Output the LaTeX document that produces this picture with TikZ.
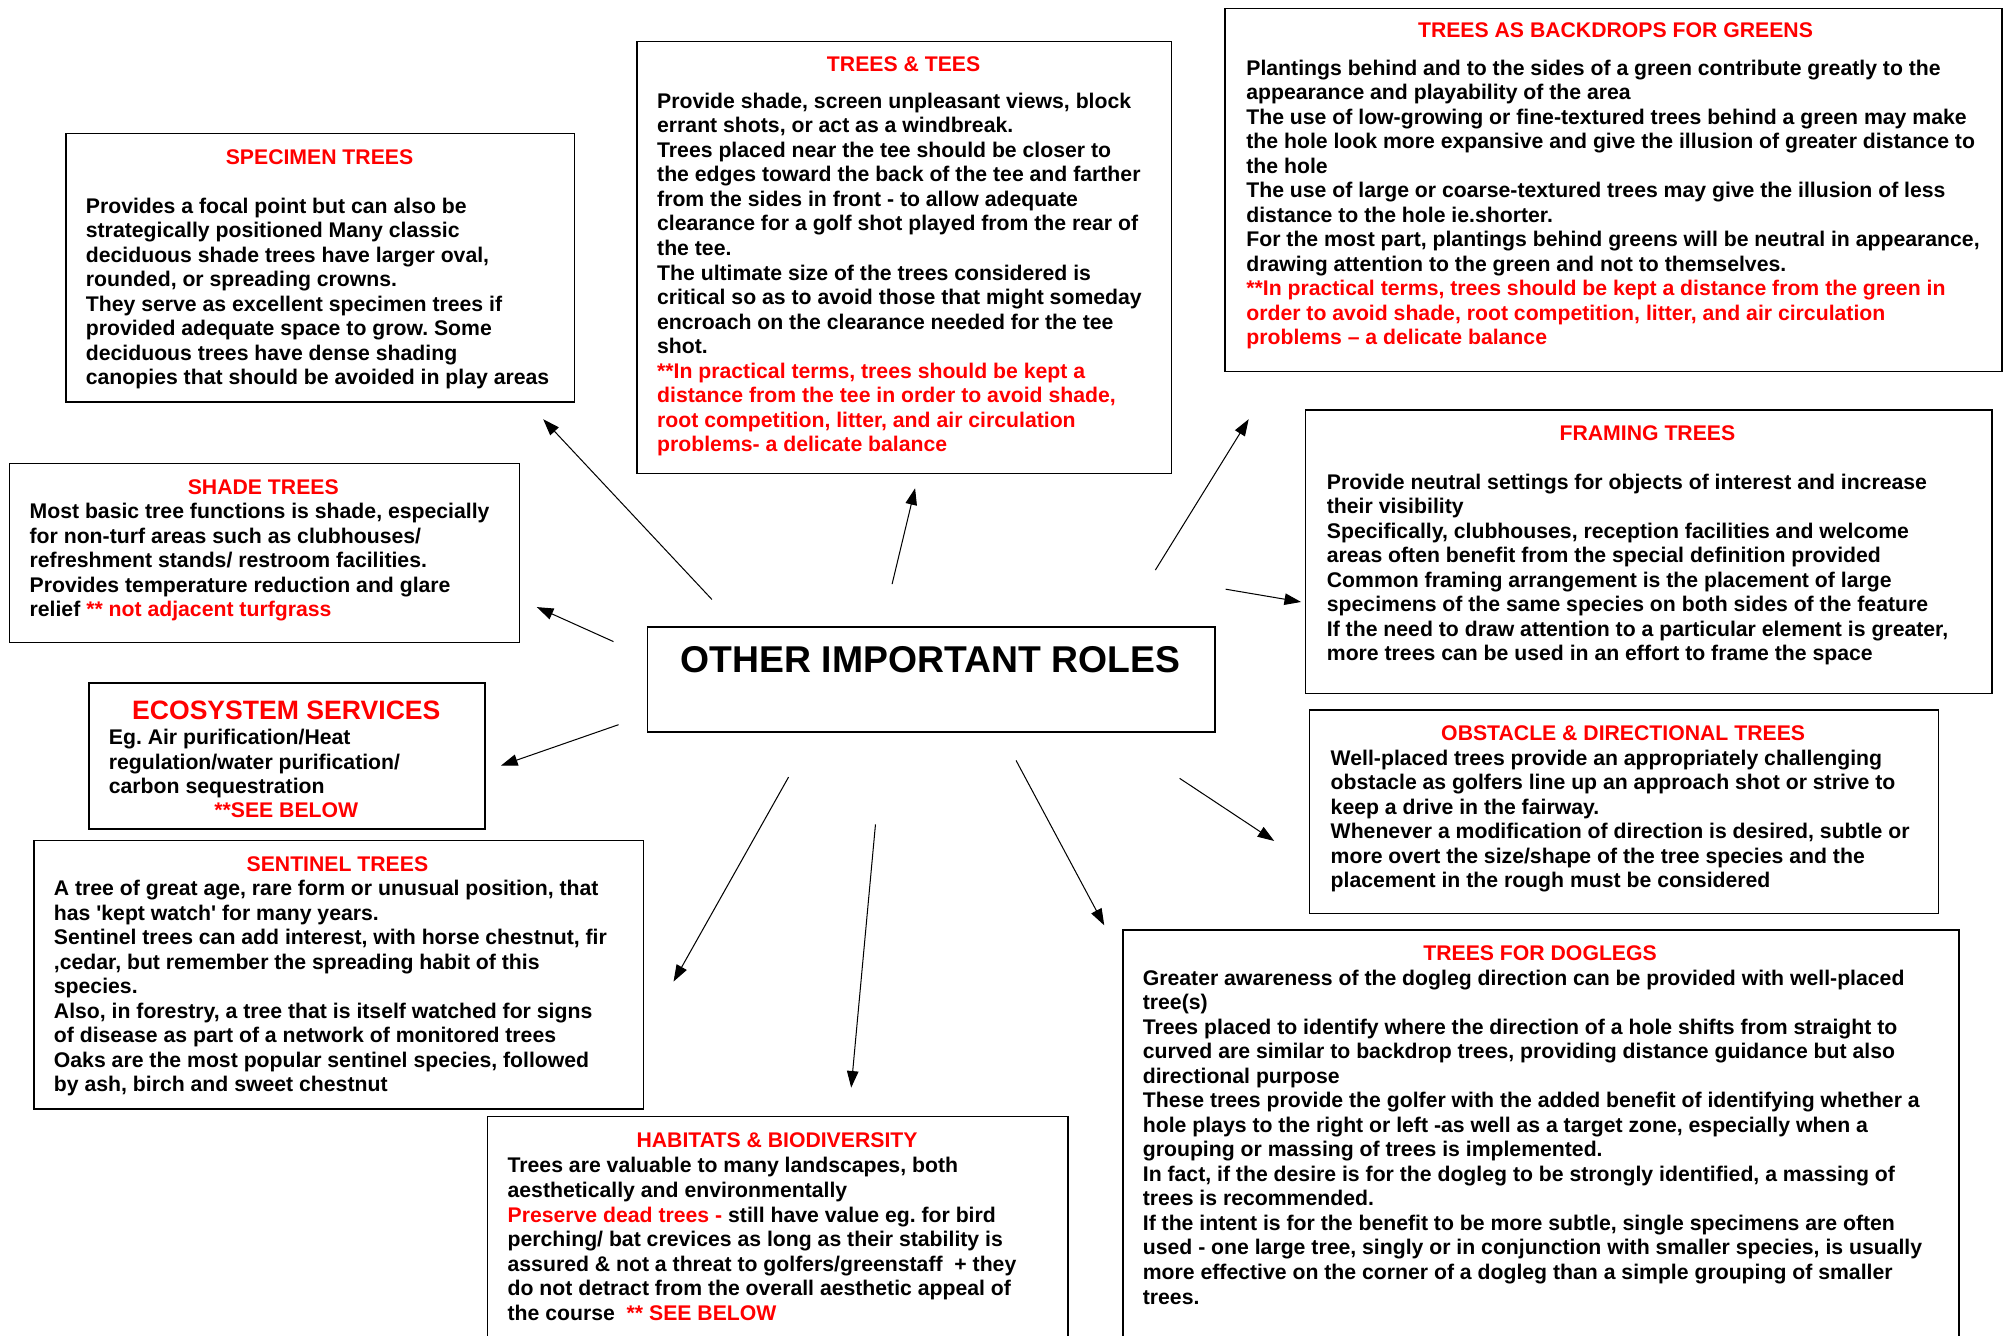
\documentclass[tikz,border=0pt]{standalone}
\usepackage{fontspec}
\setmainfont{Liberation Sans}
\usetikzlibrary{arrows.meta}
\definecolor{hdred}{RGB}{255,0,0}
\frenchspacing

\begin{document}
\begin{tikzpicture}[
    x=1pt, y=-1pt,
    every node/.style={font=\fontsize{16.6}{19.2}\selectfont\bfseries},
    box/.style={draw, line width=1.2pt, inner sep=0pt, anchor=north west},
    head/.style={text=hdred, inner sep=0pt},
    body/.style={align=left, inner sep=0pt, anchor=north west},
    arr/.style={line width=0.8pt, -{Triangle[length=13pt,width=9pt]}}
]
\path[fill=white, use as bounding box] (0,0) rectangle (1568,1044.6);

% boxes
\node[box, minimum width=398pt, minimum height=210pt] (spec) at (51,104) {};
\node[box, minimum width=418pt, minimum height=338pt] (tees) at (498,32) {};
\node[box, minimum width=608pt, minimum height=284pt] (back) at (958,6) {};
\node[box, minimum width=537pt, minimum height=222pt] (fram) at (1021,320) {};
\node[box, minimum width=399pt, minimum height=140pt] (shade) at (7,362) {};
\node[box, minimum width=444pt, minimum height=82pt] (roles) at (506,490) {};
\node[box, minimum width=310pt, minimum height=114pt] (eco) at (69,534) {};
\node[box, minimum width=492pt, minimum height=159pt] (obst) at (1024,555) {};
\node[box, minimum width=477pt, minimum height=210pt] (sent) at (26,657) {};
\node[box, minimum width=454pt, minimum height=200pt] (hab) at (381,873) {};
\node[box, minimum width=654pt, minimum height=340pt] (dog) at (878,727) {};

% centre
\node[inner sep=0pt, font=\fontsize{29.2}{34}\selectfont\bfseries] (roles-t) at (728,516) {OTHER IMPORTANT ROLES};

% specimen trees
\node[head] (spec-h) at (250,123) {SPECIMEN TREES};
\node[body] (spec-b) at (67,154.5) {Provides a focal point but can also be\\
strategically positioned Many classic\\
deciduous shade trees have larger oval,\\
rounded, or spreading crowns.\\
They serve as excellent specimen trees if\\
provided adequate space to grow. Some\\
deciduous trees have dense shading\\
canopies that should be avoided in play areas};

% trees and tees
\node[head] (tees-h) at (707,50) {TREES \& TEES};
\node[body] (tees-b) at (514,72.5) {Provide shade, screen unpleasant views, block\\
errant shots, or act as a windbreak.\\
Trees placed near the tee should be closer to\\
the edges toward the back of the tee and farther\\
from the sides in front - to allow adequate\\
clearance for a golf shot played from the rear of\\
the tee.\\
The ultimate size of the trees considered is\\
critical so as to avoid those that might someday\\
encroach on the clearance needed for the tee\\
shot.\\
\textcolor{hdred}{**In practical terms, trees should be kept a}\\
\textcolor{hdred}{distance from the tee in order to avoid shade,}\\
\textcolor{hdred}{root competition, litter, and air circulation}\\
\textcolor{hdred}{problems- a delicate balance}};

% backdrops
\node[head] (back-h) at (1264,24) {TREES AS BACKDROPS FOR GREENS};
\node[body] (back-b) at (975,46.5) {Plantings behind and to the sides of a green contribute greatly to the\\
appearance and playability of the area\\
The use of low-growing or fine-textured trees behind a green may make\\
the hole look more expansive and give the illusion of greater distance to\\
the hole\\
The use of large or coarse-textured trees may give the illusion of less\\
distance to the hole ie.shorter.\\
For the most part, plantings behind greens will be neutral in appearance,\\
drawing attention to the green and not to themselves.\\
\textcolor{hdred}{**In practical terms, trees should be kept a distance from the green in}\\
\textcolor{hdred}{order to avoid shade, root competition, litter, and air circulation}\\
\textcolor{hdred}{problems -- a delicate balance}};

% framing
\node[head] (fram-h) at (1289,339) {FRAMING TREES};
\node[body] (fram-b) at (1038,370.5) {Provide neutral settings for objects of interest and increase\\
their visibility\\
Specifically, clubhouses, reception facilities and welcome\\
areas often benefit from the special definition provided\\
Common framing arrangement is the placement of large\\
specimens of the same species on both sides of the feature\\
If the need to draw attention to a particular element is greater,\\
more trees can be used in an effort to frame the space};

% shade
\node[head] (shade-h) at (206,381) {SHADE TREES};
\node[body] (shade-b) at (23,393.5) {Most basic tree functions is shade, especially\\
for non-turf areas such as clubhouses/\\
refreshment stands/ restroom facilities.\\
Provides temperature reduction and glare\\
relief \textcolor{hdred}{** not adjacent turfgrass}};

% ecosystem services
\node[head, font=\fontsize{20.8}{24}\selectfont\bfseries] (eco-h) at (224,556) {ECOSYSTEM SERVICES};
\node[body] (eco-b) at (85,570.5) {Eg. Air purification/Heat\\
regulation/water purification/\\
carbon sequestration};
\node[head] (eco-n) at (224,634) {**SEE BELOW};

% obstacle
\node[head] (obst-h) at (1270,574) {OBSTACLE \& DIRECTIONAL TREES};
\node[body] (obst-b) at (1041,586.5) {Well-placed trees provide an appropriately challenging\\
obstacle as golfers line up an approach shot or strive to\\
keep a drive in the fairway.\\
Whenever a modification of direction is desired, subtle or\\
more overt the size/shape of the tree species and the\\
placement in the rough must be considered};

% sentinel
\node[head] (sent-h) at (264,676) {SENTINEL TREES};
\node[body] (sent-b) at (42,688.5) {A tree of great age, rare form or unusual position, that\\
has \textquotesingle kept watch\textquotesingle\ for many years.\\
Sentinel trees can add interest, with horse chestnut, fir\\
,cedar, but remember the spreading habit of this\\
species.\\
Also, in forestry, a tree that is itself watched for signs\\
of disease as part of a network of monitored trees\\
Oaks are the most popular sentinel species, followed\\
by ash, birch and sweet chestnut};

% habitats
\node[head] (hab-h) at (608,892) {HABITATS \& BIODIVERSITY};
\node[body] (hab-b) at (397,905.5) {Trees are valuable to many landscapes, both\\
aesthetically and environmentally\\
\textcolor{hdred}{Preserve dead trees -} still have value eg. for bird\\
perching/ bat crevices as long as their stability is\\
assured \& not a threat to golfers/greenstaff \ + they\\
do not detract from the overall aesthetic appeal of\\
the course \ \textcolor{hdred}{** SEE BELOW}};

% doglegs
\node[head] (dog-h) at (1205,746) {TREES FOR DOGLEGS};
\node[body] (dog-b) at (894,758.5) {Greater awareness of the dogleg direction can be provided with well-placed\\
tree(s)\\
Trees placed to identify where the direction of a hole shifts from straight to\\
curved are similar to backdrop trees, providing distance guidance but also\\
directional purpose\\
These trees provide the golfer with the added benefit of identifying whether a\\
hole plays to the right or left -as well as a target zone, especially when a\\
grouping or massing of trees is implemented.\\
In fact, if the desire is for the dogleg to be strongly identified, a massing of\\
trees is recommended.\\
If the intent is for the benefit to be more subtle, single specimens are often\\
used - one large tree, singly or in conjunction with smaller species, is usually\\
more effective on the corner of a dogleg than a simple grouping of smaller\\
trees.};

% arrow ends
\coordinate (spec-from) at (557,469);  \coordinate (spec-to) at (425,328);
\coordinate (tees-from) at (698,457);  \coordinate (tees-to) at (716,382);
\coordinate (back-from) at (904,446);  \coordinate (back-to) at (977,328);
\coordinate (fram-from) at (959,461);  \coordinate (fram-to) at (1018,471);
\coordinate (shade-from) at (480,502); \coordinate (shade-to) at (420,475);
\coordinate (eco-from) at (484,567);   \coordinate (eco-to) at (392,599);
\coordinate (obst-from) at (923,609);  \coordinate (obst-to) at (997,658);
\coordinate (dog-from) at (795,595);   \coordinate (dog-to) at (864,724);
\coordinate (hab-from) at (685,645);   \coordinate (hab-to) at (666,851);
\coordinate (sent-from) at (617,608);  \coordinate (sent-to) at (527,768);

\foreach \n in {spec,tees,back,fram,shade,eco,obst,dog,hab,sent}
    \draw[arr] (\n-from) -- (\n-to);
\end{tikzpicture}
\end{document}
